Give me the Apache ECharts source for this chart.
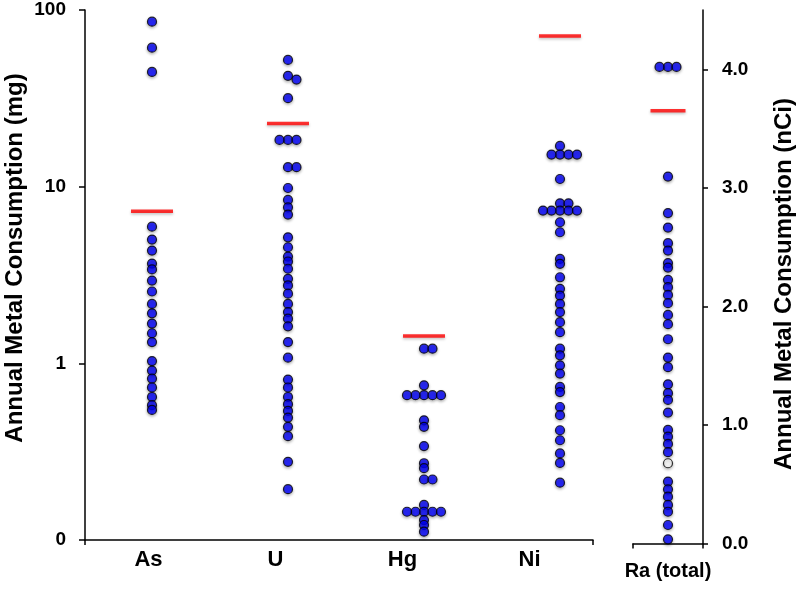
<!DOCTYPE html>
<html><head><meta charset="utf-8">
<script src="https://cdn.jsdelivr.net/npm/echarts@6/dist/echarts.min.js"></script>
<style>html,body{margin:0;padding:0;background:#fff}#c{width:800px;height:590px}</style>
</head><body><div id="c"></div>
<script>
// ---------------- data ----------------
const categories = ['As', 'U', 'Hg', 'Ni'];
const raCategory = ['Ra (total)'];
const leftTickValues = [0.1, 1, 10, 100];
const rightTickValues = [0, 1, 2, 3, 4];
const asValues = [85.9, 61.2, 44.6, 5.94, 5.02, 4.35, 3.67, 3.4, 2.94, 2.55, 2.17, 1.92, 1.68, 1.48, 1.32, 1.03, 0.91, 0.82, 0.73, 0.645, 0.58, 0.545];
const uValues = [52.2, 42.4, 40.4, 31.7, 18.4, 18.4, 18.4, 12.9, 12.9, 9.83, 8.41, 7.64, 6.95, 5.17, 4.54, 4.02, 3.77, 3.43, 3.01, 2.76, 2.48, 2.17, 1.95, 1.79, 1.62, 1.32, 1.077, 0.809, 0.73, 0.645, 0.587, 0.538, 0.493, 0.437, 0.387, 0.277, 0.194];
const hgValues = [1.21, 1.21, 0.751, 0.66, 0.66, 0.66, 0.66, 0.66, 0.476, 0.437, 0.34, 0.272, 0.255, 0.22, 0.22, 0.158, 0.1445, 0.1445, 0.1445, 0.1445, 0.1445, 0.1297, 0.1216, 0.1114];
const niValues = [17.0, 15.2, 15.2, 15.2, 15.2, 11.05, 8.05, 8.05, 7.32, 7.32, 7.32, 7.32, 7.32, 6.29, 5.52, 3.90, 3.66, 3.07, 2.64, 2.42, 2.17, 1.95, 1.71, 1.50, 1.21, 1.11, 0.974, 0.875, 0.735, 0.688, 0.566, 0.509, 0.418, 0.367, 0.309, 0.273, 0.211];
const raValues = [4.02, 4.02, 4.02, 3.095, 2.787, 2.665, 2.533, 2.471, 2.365, 2.327, 2.224, 2.162, 2.097, 2.027, 1.928, 1.850, 1.723, 1.568, 1.487, 1.343, 1.268, 1.211, 1.104, 0.958, 0.901, 0.840, 0.770, 0.522, 0.457, 0.395, 0.325, 0.268, 0.156, 0.035];
const raOpenValues = [0.677];
const meanMg = [7.25, 22.8, 1.43, 71.3];
const meanRa = [3.65];

// ---------------- layout ----------------
const FONT = "'Liberation Sans', Arial, Helvetica, sans-serif";
const PLOT_TOP = 10, PLOT_H = 530;
const DOT_GRID = { left: 84, width: 544 };      // 4 bands of 136 px
const RA_GRID = { left: 633, width: 70 };
const DOT_STEP_PX = 8.5, OVERLAP_PX = 4.2;
const LOG_PX = PLOT_H / 3;                   // px per decade
const RA_H = 533.5, RA_PX = RA_H / 4.5;

function swarm(values, toPx) {
  const placed = [];
  const order = [0, 1, -1, 2, -2, 3, -3];
  return values.map(v => {
    const y = toPx(v);
    for (const k of order) {
      if (!placed.some(p => p.k === k && Math.abs(p.y - y) < OVERLAP_PX)) {
        placed.push({ k, y });
        return k;
      }
    }
    return 0;
  });
}
const groups = [asValues, uValues, hgValues, niValues];
const dotUnit = DOT_STEP_PX / (DOT_GRID.width / categories.length);
const leftDots = [];
groups.forEach((vals, gi) => {
  const ks = swarm(vals, v => (Math.log10(v) + 1) * LOG_PX);
  vals.forEach((v, i) => leftDots.push([gi + ks[i] * dotUnit, v]));
});
const raUnit = DOT_STEP_PX / RA_GRID.width;
const raKs = swarm(raValues, v => v * RA_PX);
const raDots = raValues.map((v, i) => [raKs[i] * raUnit, v]);
const raOpen = raOpenValues.map(v => [0, v]);

const dotStyle = {
  color: '#0000ff', borderColor: '#000', borderWidth: 1.2,
  shadowColor: 'rgba(0,0,0,0.35)', shadowBlur: 3, shadowOffsetY: 1.5
};
const redStyle = {
  color: '#ff0000', shadowColor: 'rgba(0,0,0,0.3)', shadowBlur: 3, shadowOffsetY: 1.5
};
const axisLine = { show: true, onZero: false, lineStyle: { color: '#000', width: 1.5 } };

const chart = echarts.init(document.getElementById('c'), null, { renderer: 'canvas' });
chart.setOption({
  animation: false,
  backgroundColor: '#fff',
  grid: [
    { left: 85, top: PLOT_TOP, width: 508, height: PLOT_H, outerBoundsMode: 'none' },
    { left: DOT_GRID.left, top: PLOT_TOP, width: DOT_GRID.width, height: PLOT_H, outerBoundsMode: 'none' },
    { left: RA_GRID.left, top: PLOT_TOP, width: RA_GRID.width, height: RA_H, outerBoundsMode: 'none' }
  ],
  xAxis: [
    { type: 'category', gridIndex: 0, data: categories, boundaryGap: true,
      axisLine, axisTick: { show: true, inside: false, length: 5, lineStyle: { color: '#000', width: 1.5 }, interval: (i) => i === 0 },
      axisLabel: { color: '#000', fontSize: 22, fontWeight: 'bold', fontFamily: FONT, margin: 9 } },
    { type: 'value', gridIndex: 1, min: -0.5, max: 3.5, show: false },
    { type: 'category', gridIndex: 2, data: raCategory, boundaryGap: true,
      axisLine, axisTick: { show: true, inside: false, length: 5, lineStyle: { color: '#000', width: 1.5 } },
      axisLabel: { color: '#000', fontSize: 20, fontWeight: 'bold', fontFamily: FONT, margin: 18 } },
    { type: 'value', gridIndex: 2, min: -0.5, max: 0.5, show: false }
  ],
  yAxis: [
    { type: 'log', gridIndex: 0, logBase: 10, min: 0.1, max: 100,
      axisLine, splitLine: { show: false }, minorTick: { show: false },
      axisTick: { show: true, inside: false, length: 6, lineStyle: { color: '#000', width: 1.5 } },
      axisLabel: { color: '#000', fontSize: 19, fontWeight: 'bold', fontFamily: FONT, margin: 19,
        formatter: v => (v < 0.5 ? '0' : String(Math.round(v))) } },
    { type: 'log', gridIndex: 1, logBase: 10, min: 0.1, max: 100, show: false },
    { type: 'value', gridIndex: 2, position: 'right', min: 0, max: 4.5,
      axisLine, splitLine: { show: false },
      axisTick: { show: true, inside: false, length: 5, lineStyle: { color: '#000', width: 1.5 }, customValues: rightTickValues },
      axisLabel: { color: '#000', fontSize: 19, fontWeight: 'bold', fontFamily: FONT, margin: 19,
        customValues: rightTickValues, formatter: v => Number(v).toFixed(1) } }
  ],
  series: [
    { type: 'scatter', xAxisIndex: 1, yAxisIndex: 1, data: leftDots, symbol: 'circle', symbolSize: 9, itemStyle: dotStyle, z: 3 },
    { type: 'scatter', xAxisIndex: 1, yAxisIndex: 1, data: meanMg.map((m, i) => [i, m]), symbol: 'rect', symbolSize: [42, 3.5], itemStyle: redStyle, z: 4 },
    { type: 'scatter', xAxisIndex: 3, yAxisIndex: 2, data: raDots, symbol: 'circle', symbolSize: 9, itemStyle: dotStyle, z: 3 },
    { type: 'scatter', xAxisIndex: 3, yAxisIndex: 2, data: raOpen, symbol: 'circle', symbolSize: 9,
      itemStyle: Object.assign({}, dotStyle, { color: '#fff' }), z: 3 },
    { type: 'scatter', xAxisIndex: 3, yAxisIndex: 2, data: meanRa.map(m => [0, m]), symbol: 'rect', symbolSize: [35, 3.5], itemStyle: redStyle, z: 4 }
  ],
  graphic: [
    { type: 'text', x: 15, y: 258, rotation: Math.PI / 2,
      style: { text: 'Annual Metal Consumption (mg)', font: 'bold 24px ' + FONT, fill: '#000', align: 'center', verticalAlign: 'middle' } },
    { type: 'text', x: 784, y: 284, rotation: Math.PI / 2,
      style: { text: 'Annual Metal Consumption (nCi)', font: 'bold 24px ' + FONT, fill: '#000', align: 'center', verticalAlign: 'middle' } }
  ]
});
</script>
</body></html>
